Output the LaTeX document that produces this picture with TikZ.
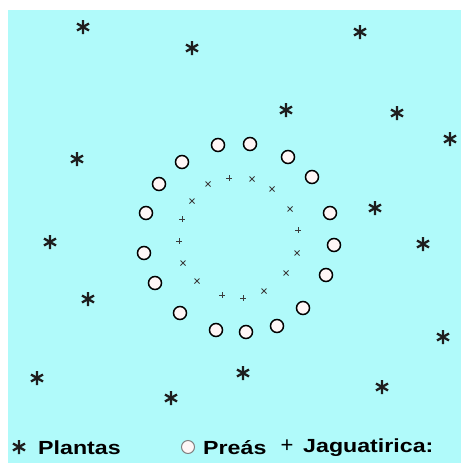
\documentclass[tikz,border=0pt]{standalone}
\usepackage{fontspec}
\setmainfont{Liberation Sans}
\definecolor{bgcyan}{RGB}{176,250,250}
\definecolor{plantcol}{RGB}{30,30,30}
\definecolor{preafill}{RGB}{255,246,246}
\definecolor{jagcol}{RGB}{60,60,60}
\begin{document}
\begin{tikzpicture}[x=1pt,y=-1pt,
  plant/.pic={\draw[line width=2.3pt,plantcol] (0,-7)--(0,7) (-6,-3.5)--(6,3.5) (-6,3.5)--(6,-3.5);},
  jagx/.pic={\draw[line width=0.9pt,jagcol] (-2.5,-2.5)--(2.5,2.5) (-2.5,2.5)--(2.5,-2.5);},
  jagp/.pic={\draw[line width=0.9pt,jagcol] (-3,0)--(3,0) (0,-3)--(0,3);},
  prea/.style={circle,draw=black,line width=1.5pt,fill=preafill,minimum size=13pt,inner sep=0pt},
  legend/.style={anchor=west,font=\bfseries\fontsize{19}{19}\selectfont,inner sep=0pt,xscale=1.22}]
\useasboundingbox (0,0) rectangle (461,463);
\fill[white] (0,0) rectangle (461,463);
\fill[bgcyan] (8,10) rectangle (461,463);
% plants
\foreach \x/\y in {83/27,192/48,360/32,286/110,397/113,450/139,77/159,375/208,50/242,423/244,88/299,443/337,37/378,243/373,382/387,171/398}
  \pic at (\x,\y) {plant};
% preas
\foreach \x/\y [count=\i] in {218/145,250/144,182/162,288/157,159/184,312/177,146/213,330/213,144/253,334/245,155/283,326/275,180/313,303/308,216/330,246/332,277/326}
  \node[prea] (c\i) at (\x,\y) {};
% jaguatiricas
\foreach \x/\y/\t in {229/178/jagp,252/179/jagx,208/184/jagx,272/189/jagx,192/201/jagx,290/209/jagx,182/219/jagp,298/230/jagp,179/241/jagp,297/253/jagx,183/263/jagx,286/273/jagx,197/281/jagx,264/291/jagx,222/295/jagp,243/298/jagp}
  \pic at (\x,\y) {\t};
% legend
\pic at (19,447) {plant};
\node[legend] (lp) at (38,448) {Plantas};
\node[prea,line width=1pt,draw=gray] (lc) at (188,447) {};
\node[legend] (lq) at (203,448) {Preás};
\node[font=\fontsize{22}{22}\selectfont,inner sep=0pt] (lplus) at (287,446) {+};
\node[legend] (lj) at (303,448) {Jaguatirica:};
\end{tikzpicture}
\end{document}
